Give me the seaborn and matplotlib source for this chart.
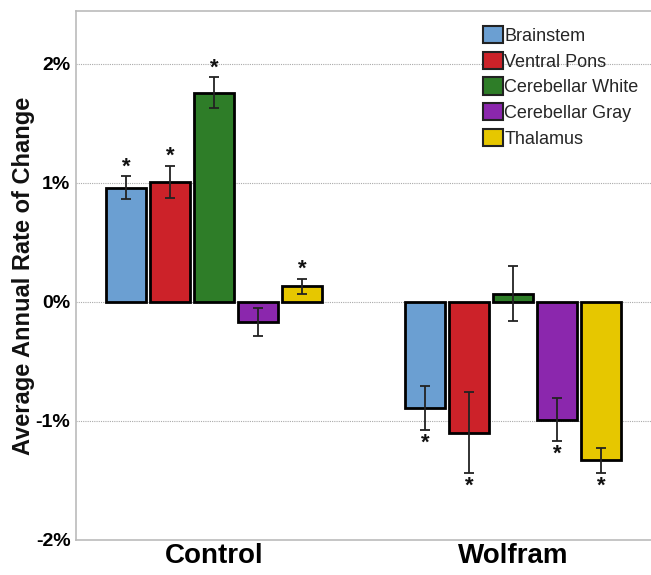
import matplotlib
matplotlib.use("Agg")
import matplotlib.pyplot as plt
import seaborn as sns
import pandas as pd
import numpy as np

groups = ["Control", "Wolfram"]
regions = ["Brainstem", "Ventral Pons", "Cerebellar White", "Cerebellar Gray", "Thalamus"]
control_vals = [0.96, 1.01, 1.76, -0.17, 0.13]
control_err = [0.095, 0.135, 0.128, 0.12, 0.066]
control_sig = [True, True, True, False, True]
wolfram_vals = [-0.89, -1.10, 0.07, -0.99, -1.33]
wolfram_err = [0.185, 0.34, 0.23, 0.18, 0.107]
wolfram_sig = [True, True, False, True, True]
colors = ["#6B9FD2", "#CC2229", "#2E7D28", "#8B27AD", "#E6C700"]
yticks = [-2, -1, 0, 1, 2]
ytick_labels = ["-2%", "-1%", "0%", "1%", "2%"]

df = pd.DataFrame({
    "group": [g for g in groups for _ in regions],
    "region": regions * 2,
    "value": control_vals + wolfram_vals,
    "err": control_err + wolfram_err,
    "sig": control_sig + wolfram_sig,
})

sns.set_theme(style="white")
plt.rcParams["font.family"] = ["Liberation Sans", "DejaVu Sans"]

fig = plt.figure(figsize=(6.51, 5.75), dpi=100)
ax = fig.add_axes([0.1167, 0.0609, 0.883, 0.920])

sns.barplot(data=df, x="group", y="value", hue="region", order=groups,
            hue_order=regions, palette=colors, saturation=1, width=0.736, gap=0.09,
            edgecolor="black", linewidth=2, errorbar=None, ax=ax, zorder=3)

# error bars and stars
for i, region in enumerate(regions):
    for j, g in enumerate(groups):
        p = ax.patches[i * len(groups) + j]
        row = df[(df.group == g) & (df.region == region)].iloc[0]
        xc = p.get_x() + p.get_width() / 2
        v, e = row.value, row.err
        ax.errorbar(xc, v, yerr=e, fmt="none", ecolor="#222222", elinewidth=1.3,
                    capsize=3.5, capthick=1.3, zorder=4)
        if row.sig:
            if v >= 0:
                ax.text(xc, v + e - 0.01, "*", ha="center", va="bottom",
                        fontsize=16, fontweight="bold", color="#111111")
            else:
                ax.text(xc, v - e - 0.02, "*", ha="center", va="top",
                        fontsize=16, fontweight="bold", color="#111111")

ax.set_ylim(-2, 2.445)
ax.set_xlim(-0.463, 1.46)
ax.set_yticks(yticks)
ax.set_yticklabels(ytick_labels, fontsize=14, fontweight="bold")
for t in ax.get_xticklabels():
    t.set_fontsize(20)
    t.set_fontweight("bold")
ax.set_xlabel("")
ax.set_ylabel("Average Annual Rate of Change", fontsize=17, fontweight="bold",
              color="#111111")
ax.yaxis.set_label_coords(-0.092, 0.50)
ax.yaxis.label.set_verticalalignment("center")
ax.tick_params(axis="both", length=0, pad=4, colors="black")
ax.tick_params(axis="x", pad=2)
for yv in yticks[1:]:
    ax.axhline(yv, color="#aaaaaa", linestyle=(0, (1, 1)), linewidth=0.8, zorder=1)
for s in ["left", "bottom", "top"]:
    ax.spines[s].set_color("#bbbbbb")
    ax.spines[s].set_linewidth(1.2)
ax.spines["right"].set_visible(False)

leg = ax.legend(loc="upper left", bbox_to_anchor=(0.695, 0.985), frameon=False,
                fontsize=13, handlelength=1.1, handleheight=1.1,
                handletextpad=0.1, labelspacing=0.38, borderaxespad=0.0)
for h in leg.legend_handles:
    h.set_edgecolor("#222222")
    h.set_linewidth(1.5)

fig.savefig("out.png", dpi=100)
